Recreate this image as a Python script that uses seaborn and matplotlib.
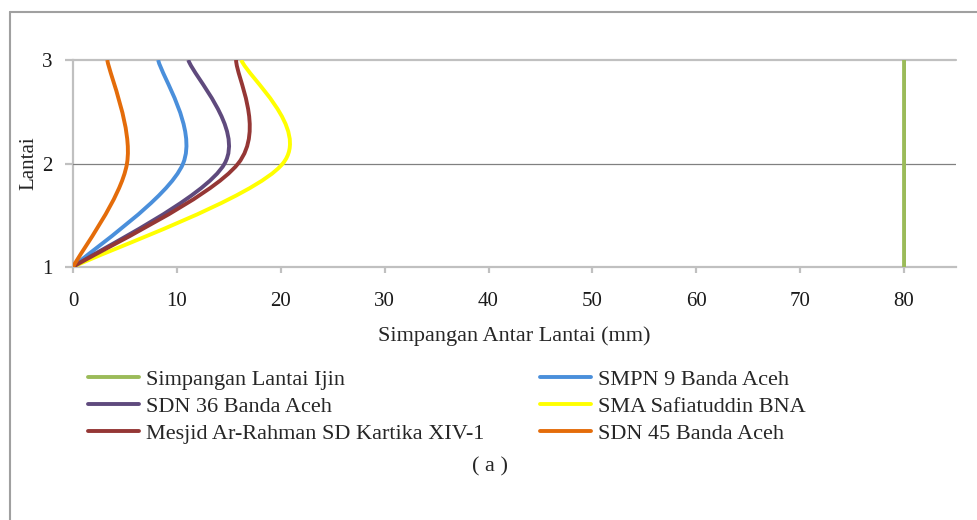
import numpy as np
import pandas as pd
import seaborn as sns
import matplotlib.pyplot as plt
from matplotlib.path import Path
from matplotlib.patches import PathPatch
from matplotlib.lines import Line2D

# data: story drift per floor (mm)
lantai = [1, 2, 3]
simpangan_ijin = [80, 80, 80]
smpn_9 = [0, 10.6, 8.2]
sdn_36 = [0, 14.6, 11.1]
sma_safiatuddin = [0, 20.2, 16.2]
mesjid_ar_rahman = [0, 15.9, 15.7]
sdn_45 = [0, 5.2, 3.3]

names = ["Simpangan Lantai Ijin", "SMPN 9 Banda Aceh", "SDN 36 Banda Aceh",
         "SMA Safiatuddin BNA", "Mesjid Ar-Rahman SD Kartika XIV-1", "SDN 45 Banda Aceh"]
series = [simpangan_ijin, smpn_9, sdn_36, sma_safiatuddin, mesjid_ar_rahman, sdn_45]
colors = ["#9BBB59", "#4A8FDB", "#5F4A7D", "#FFFF00", "#953735", "#E46C0A"]

df = pd.DataFrame({n: s for n, s in zip(names, series)})
df["Lantai"] = lantai


def smooth_path(xs, ys):
    # excel-like smoothed line: catmull-rom control points -> cubic bezier
    pts = np.column_stack([xs, ys]).astype(float)
    n = len(pts)
    verts = [pts[0]]
    codes = [Path.MOVETO]
    for i in range(n - 1):
        p0 = pts[max(i - 1, 0)]
        p1 = pts[i]
        p2 = pts[i + 1]
        p3 = pts[min(i + 2, n - 1)]
        verts += [p1 + (p2 - p0) / 6, p2 - (p3 - p1) / 6, p2]
        codes += [Path.CURVE4] * 3
    return Path(verts, codes)


sns.set_theme(style="white")
plt.rcParams["font.family"] = ["Liberation Serif", "DejaVu Serif"]

fig = plt.figure(figsize=(9.78, 5.20), dpi=100)
ax = fig.add_axes([0.0746, 0.4865, 0.9029, 0.3981])

# gridlines
ax.axhline(3, color="#C0C0C0", lw=1.6, zorder=1, clip_on=False)
ax.axhline(2, color="#808080", lw=0.9, zorder=1)

handles = []
for name, col in zip(names, colors):
    patch = PathPatch(smooth_path(df[name], df["Lantai"]), fill=False,
                      edgecolor=col, lw=2.8, capstyle="butt", zorder=3)
    ax.add_patch(patch)
    handles.append(Line2D([], [], color=col, lw=2.8))

ax.set_xlim(0, 85)
ax.set_ylim(1, 3)
ax.set_xticks(range(0, 81, 10))
ax.set_yticks([1, 2, 3])

for s in ["top", "right"]:
    ax.spines[s].set_visible(False)
for s in ["left", "bottom"]:
    ax.spines[s].set_color("#C0C0C0")
    ax.spines[s].set_linewidth(1.6)
ax.spines["left"].set_zorder(0)

ax.tick_params(axis="x", bottom=True, length=4, width=1.6, color="#C0C0C0",
               pad=14, labelsize=15, labelcolor="#1a1a1a")
ax.tick_params(axis="y", left=True, length=6, width=1.6, color="#C0C0C0",
               pad=9, labelsize=15, labelcolor="#1a1a1a")

ax.set_xlabel("Simpangan Antar Lantai (mm)", fontsize=16, labelpad=11)
ax.set_ylabel("Lantai", fontsize=15, labelpad=2)

# legend in excel row order
order = [0, 2, 4, 1, 3, 5]
fig.legend([handles[i] for i in order], [names[i] for i in order],
           ncol=2, loc="upper left", bbox_to_anchor=(0.09, 0.29),
           frameon=False, fontsize=16, handlelength=2.3, handletextpad=0.3,
           columnspacing=2.5, labelspacing=0.3, borderaxespad=0, borderpad=0)

fig.text(0.501, 0.103, "( a )", ha="center", va="center", fontsize=16)

# chart border (top and left edges)
fig.add_artist(Line2D([0.0102, 1.0], [0.977, 0.977], color="#A0A0A0", lw=1.5))
fig.add_artist(Line2D([0.0102, 0.0102], [0.0, 0.977], color="#A0A0A0", lw=1.5))

fig.savefig("out.png", dpi=100)
